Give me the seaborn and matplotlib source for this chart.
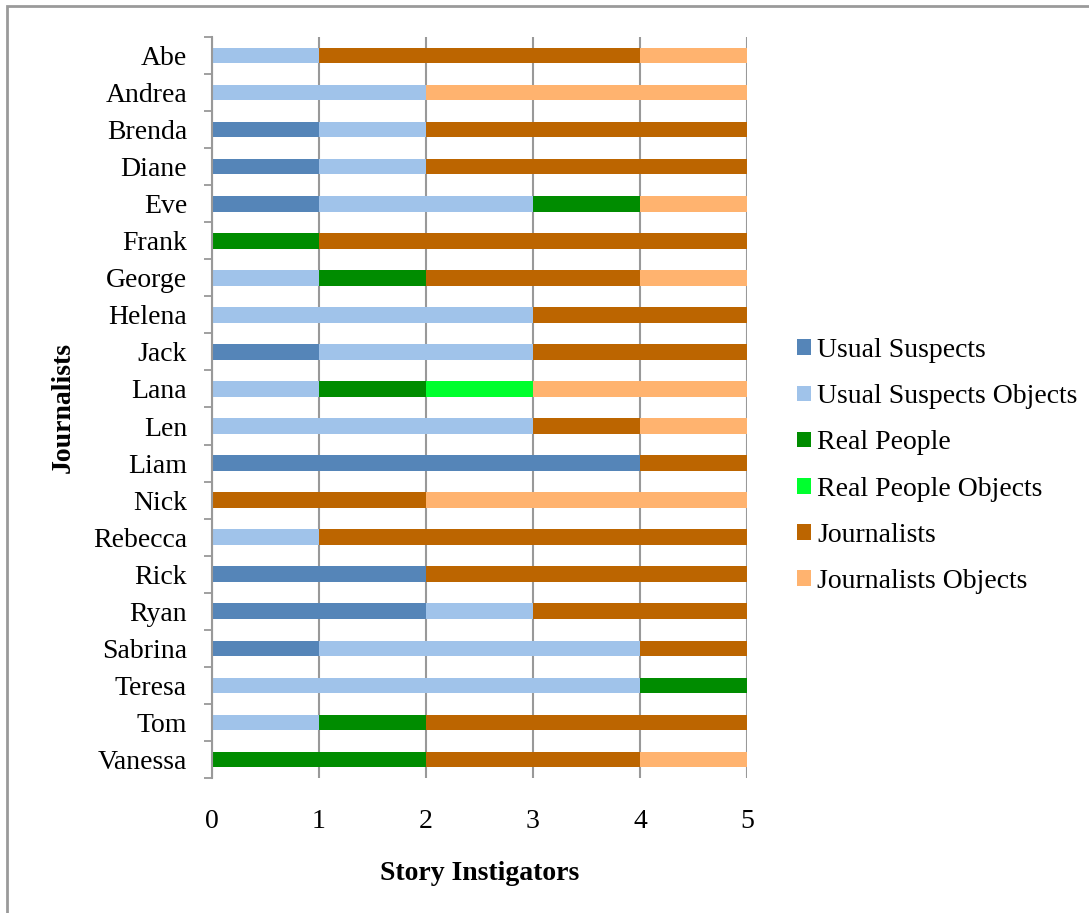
import numpy as np
import pandas as pd
import matplotlib
matplotlib.use("Agg")
import matplotlib.pyplot as plt
from matplotlib.patches import Patch, Rectangle
import seaborn as sns

journalists = ["Abe", "Andrea", "Brenda", "Diane", "Eve", "Frank", "George", "Helena",
               "Jack", "Lana", "Len", "Liam", "Nick", "Rebecca", "Rick", "Ryan",
               "Sabrina", "Teresa", "Tom", "Vanessa"]
series_names = ["Usual Suspects", "Usual Suspects Objects", "Real People",
                "Real People Objects", "Journalists", "Journalists Objects"]
usual_suspects         = [0, 0, 1, 1, 1, 0, 0, 0, 1, 0, 0, 4, 0, 0, 2, 2, 1, 0, 0, 0]
usual_suspects_objects = [1, 2, 1, 1, 2, 0, 1, 3, 2, 1, 3, 0, 0, 1, 0, 1, 3, 4, 1, 0]
real_people            = [0, 0, 0, 0, 1, 1, 1, 0, 0, 1, 0, 0, 0, 0, 0, 0, 0, 1, 1, 2]
real_people_objects    = [0, 0, 0, 0, 0, 0, 0, 0, 0, 1, 0, 0, 0, 0, 0, 0, 0, 0, 0, 0]
journalists_vals       = [3, 0, 3, 3, 0, 4, 2, 2, 2, 0, 1, 1, 2, 4, 3, 2, 1, 0, 3, 2]
journalists_objects    = [1, 3, 0, 0, 1, 0, 1, 0, 0, 2, 1, 0, 3, 0, 0, 0, 0, 0, 0, 1]
colors = ["#5585B8", "#A0C3EA", "#008C00", "#00FF2E", "#BC6500", "#FFB36F"]
x_ticks = [0, 1, 2, 3, 4, 5]

series = [usual_suspects, usual_suspects_objects, real_people,
          real_people_objects, journalists_vals, journalists_objects]

sns.set_style("white")
plt.rcParams["font.family"] = ["Liberation Serif", "DejaVu Serif"]
plt.rcParams["text.color"] = "black"
plt.rcParams["axes.labelcolor"] = "black"
plt.rcParams["xtick.color"] = "black"
plt.rcParams["ytick.color"] = "black"
FS = 20

fig = plt.figure(figsize=(10.89, 9.13), dpi=100)
ax = fig.add_axes([212 / 1089, 1 - 778 / 913, (747 - 212) / 1089, (778 - 37) / 913])

cum = np.zeros(len(journalists))
cums = []
for s in series:
    cum = cum + np.array(s)
    cums.append(cum.copy())

# draw cumulative totals from largest to smallest so the bars appear stacked
for i in range(len(series) - 1, -1, -1):
    d = pd.DataFrame({"name": journalists, "value": cums[i]})
    sns.barplot(data=d, x="value", y="name", orient="h", color=colors[i],
                width=0.42, linewidth=0, saturation=1, ax=ax, zorder=3, errorbar=None)

ax.set_xlim(0, 5)
ax.set_ylim(len(journalists) - 0.5, -0.5)
ax.set_xticks(x_ticks)
ax.set_xticklabels([str(t) for t in x_ticks], fontsize=FS)
ax.set_yticks(range(len(journalists)))
ax.set_yticklabels(journalists, fontsize=FS)
ax.set_yticks(np.arange(-0.5, len(journalists), 1.0), minor=True)
ax.tick_params(axis="y", which="major", length=0, pad=18)
ax.tick_params(axis="y", which="minor", length=6, width=1.3, color="#999999", left=True)
ax.tick_params(axis="x", length=0, pad=22)
ax.grid(axis="x", color="#999999", linewidth=1.5, zorder=0)
ax.grid(axis="y", visible=False)
for sp in ["top", "right", "bottom"]:
    ax.spines[sp].set_visible(False)
ax.spines["left"].set_color("#999999")
ax.spines["left"].set_linewidth(1.5)
ax.spines["left"].set_zorder(4)
ax.set_axisbelow(True)

ax.set_xlabel("Story Instigators", fontsize=FS, fontweight="bold", labelpad=20)
ax.set_ylabel("Journalists", fontsize=FS, fontweight="bold", labelpad=12)

handles = [Patch(facecolor=c, edgecolor="none") for c in colors]
fig.legend(handles, series_names, loc="center left",
           bbox_to_anchor=(778 / 1089, 1 - 466 / 913), frameon=False,
           fontsize=FS, handlelength=0.5, handleheight=0.5, handletextpad=0.2,
           labelspacing=0.76, borderpad=0.2)

fig.patches.append(Rectangle((7 / 1089, -0.1), 1.2, 1.1 - 6 / 913,
                             transform=fig.transFigure, fill=False,
                             edgecolor="#9a9a9a", linewidth=2, figure=fig))

fig.savefig("out.png", dpi=100, facecolor="white")
